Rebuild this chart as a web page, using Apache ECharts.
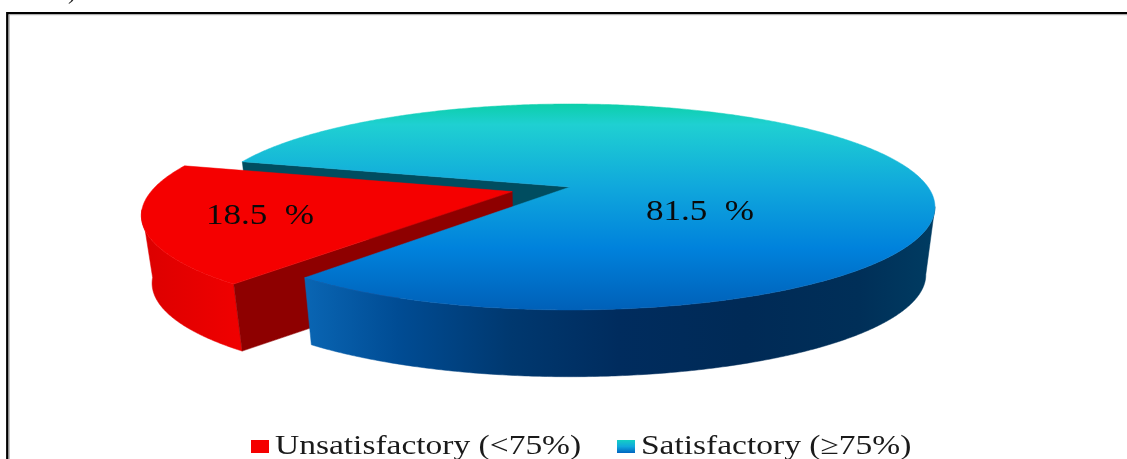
<!DOCTYPE html>
<html>
<head>
<meta charset="utf-8">
<style>html,body{margin:0;padding:0;background:#fff}#chart{width:1127px;height:459px}</style>
<script src="https://cdn.jsdelivr.net/npm/echarts@6/dist/echarts.min.js"></script>
</head>
<body>
<div id="chart"></div>
<script>
// Share of results by grade
const categories = ['Unsatisfactory (<75%)', 'Satisfactory (≥75%)'];
const shares = [18.5, 81.5];
const labels = ['18.5  %', '81.5  %'];

// Perspective settings of the tilted disc
const view = { cx: 570, cy: 187, ax: 358, ay: 99.1, persp: 0.194, depthScaleX: 0.975, depthScaleY: 0.99, depthDrop: 68 };
const firstSliceStart = 129;      // degrees, clockwise on screen from the right
const explode = [-0.16, 0.046];   // offset of the detached slice in the disc plane
const legendStretch = 1.24;       // horizontal stretch of the legend lettering
const labelStretch = 1.17;        // horizontal stretch of the value labels
const total = shares.reduce((a, b) => a + b, 0);
const sweep = shares.map(v => v / total * 360);
const rad = d => d * Math.PI / 180;

const project = (u, v, low) => {
  const s = 1 / (1 - view.persp * v);
  return [
    view.cx + view.ax * u * s * (low ? view.depthScaleX : 1),
    view.cy + view.ay * v * s * (low ? view.depthScaleY : 1) + (low ? view.depthDrop : 0)
  ];
};
const rim = (deg, off, low) => project(Math.cos(rad(deg)) + off[0], Math.sin(rad(deg)) + off[1], low);
const arc = (from, to, off, low) => {
  const pts = [], n = Math.max(2, Math.ceil(Math.abs(to - from) * 2));
  for (let i = 0; i <= n; i++) pts.push(rim(from + (to - from) * i / n, off, low));
  return pts;
};
const poly = (points, fill) => ({ type: 'polygon', shape: { points }, style: { fill, stroke: fill, lineWidth: 0.5 } });
const stops = list => list.map(([offset, color]) => ({ offset, color }));
const hGrad = (x, x2, list) => ({ type: 'linear', x, y: 0, x2, y2: 0, global: true, colorStops: stops(list) });
const vGrad = (y, y2, list) => ({ type: 'linear', x: 0, y, x2: 0, y2, global: true, colorStops: stops(list) });

const valueLabel = (text, x, y) => ({
  type: 'text', x, y, scaleX: labelStretch,
  style: { text, x: 0, y: 0, align: 'center', verticalAlign: 'middle', font: '30px "Liberation Serif"', fill: '#0a0a0a' }
});

const redColor = '#f50000';
const blueTop = vGrad(104, 310, [[0, '#0ccfaa'], [0.1, '#1fd0d2'], [0.4, '#10a8dc'], [0.7, '#0082dc'], [1, '#0060b8']]);
const blueWall = hGrad(303, 935, [[0, '#0a66b4'], [0.15, '#004c94'], [0.33, '#00386f'], [0.5, '#002c5e'], [0.7, '#002a56'], [0.88, '#002f58'], [1, '#003c62']]);

function slice0(params, api) {
  const a0 = firstSliceStart, a1 = a0 + api.value(0) / total * 360;
  const tip = project(explode[0], explode[1], false), tipLow = project(explode[0], explode[1], true);
  const wall = arc(a0, 170, explode, false).concat(arc(a0, 170, explode, true).reverse());
  const cut = [tip, rim(a0, explode, false), rim(a0, explode, true), tipLow];
  const top = [tip].concat(arc(a0, a1, explode, false));
  return { type: 'group', children: [
    poly(wall, hGrad(144, 240, [[0, '#dc0000'], [1, '#f00000']])),
    poly(cut, '#8e0000'),
    poly(top, redColor),
    valueLabel(labels[0], 260, 216)
  ] };
}

// Cut face of the large slice, painted behind the detached slice
function sliceBackFace() {
  const a = firstSliceStart + sweep[0], z = [0, 0];
  return { type: 'group', children: [
    poly([project(0, 0, false), rim(a, z, false), rim(a, z, true), project(0, 0, true)], '#004d60')
  ] };
}

function slice1(params, api) {
  const a0 = firstSliceStart + sweep[0], a1 = a0 + api.value(0) / total * 360, z = [0, 0];
  const wall = arc(11, firstSliceStart, z, false).concat(arc(11, firstSliceStart, z, true).reverse());
  const top = [project(0, 0, false)].concat(arc(a0, a1, z, false));
  return { type: 'group', children: [
    poly(wall, blueWall),
    poly(top, blueTop),
    valueLabel(labels[1], 700, 212)
  ] };
}

const legendBlue = { type: 'linear', x: 0, y: 0, x2: 0, y2: 1,
  colorStops: stops([[0, '#14cfc4'], [0.5, '#10a8dc'], [1, '#0064c0']]) };

// Legend entries: swatch position and label position for each category
const legendX = [[251, 275], [617, 641]];
const legendFills = [redColor, legendBlue];
const legendGraphics = categories.flatMap((name, i) => [
  { type: 'rect', shape: { x: legendX[i][0], y: 440, width: 18, height: 13 }, style: { fill: legendFills[i] } },
  { type: 'text', x: legendX[i][1], y: 446.5, scaleX: legendStretch,
    style: { text: name, x: 0, y: 0, align: 'left', verticalAlign: 'middle', font: '27px "Liberation Serif"', fill: '#1a1a1a' } }
]);

const chart = echarts.init(document.getElementById('chart'), null, { renderer: 'canvas' });
chart.setOption({
  animation: false,
  backgroundColor: '#fff',
  graphic: [
    { type: 'rect', shape: { x: 7.3, y: 13.1, width: 1140, height: 480 }, style: { fill: 'none', stroke: '#000', lineWidth: 2.4 }, z: 10 },
    { type: 'rect', shape: { x: 9.2, y: 14.7, width: 1140, height: 480 }, style: { fill: 'none', stroke: '#aaa', lineWidth: 1 }, z: 10 },
    { type: 'text', style: { text: ')', x: 68, y: -19, font: '24px "Liberation Serif"', fill: '#222' }, z: 10 }
  ].concat(legendGraphics),
  series: [
    { type: 'custom', name: 'Satisfactory cut face', coordinateSystem: 'none', renderItem: sliceBackFace, data: [[shares[1]]], silent: true },
    { type: 'custom', name: categories[0], coordinateSystem: 'none', renderItem: slice0, data: [[shares[0]]], silent: true },
    { type: 'custom', name: categories[1], coordinateSystem: 'none', renderItem: slice1, data: [[shares[1]]], silent: true }
  ]
});
</script>
</body>
</html>
